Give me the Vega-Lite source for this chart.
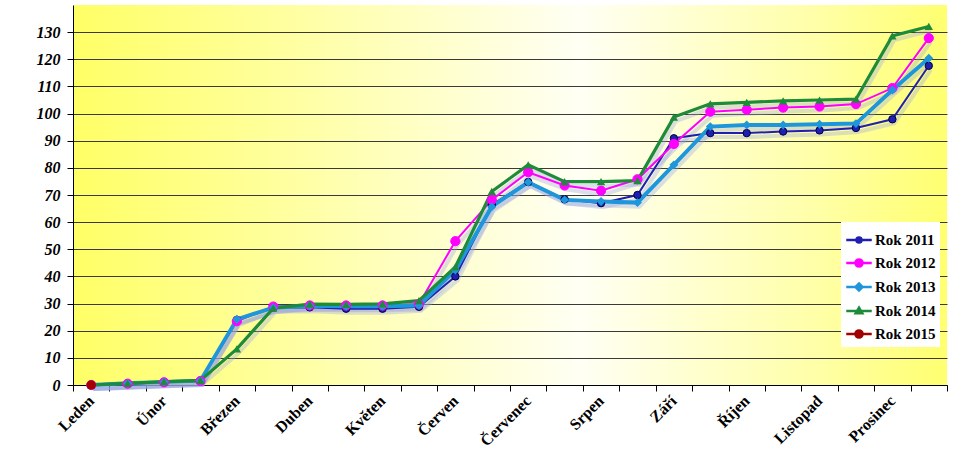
{
  "$schema": "https://vega.github.io/schema/vega-lite/v6.json",
  "width": 874,
  "height": 380,
  "autosize": {"type": "none"},
  "padding": {"left": 73, "top": 5, "right": 14, "bottom": 69},
  "background": "#ffffff",
  "config": {
    "view": {
      "stroke": null,
      "fill": {
        "gradient": "linear",
        "x1": 0, "y1": 0, "x2": 1, "y2": 0,
        "stops": [
          {"offset": 0, "color": "#FFFF66"},
          {"offset": 0.22, "color": "#FFFF9A"},
          {"offset": 0.58, "color": "#FFFFF4"},
          {"offset": 0.85, "color": "#FFFFA8"},
          {"offset": 1, "color": "#FFFF70"}
        ]
      }
    },
    "axis": {
      "labelFont": "Liberation Serif",
      "labelFontSize": 16,
      "labelFontWeight": "bold",
      "labelFontStyle": "italic",
      "labelColor": "#000000",
      "domainColor": "#000000",
      "tickColor": "#000000",
      "tickSize": 6,
      "title": null
    },
    "legend": {
      "labelFont": "Liberation Serif",
      "labelFontSize": 15,
      "labelFontWeight": "bold",
      "labelColor": "#000000"
    }
  },
  "datasets": {
    "series": [
      {"s": "Rok 2011", "i": 0, "v": 0}, {"s": "Rok 2011", "i": 1, "v": 0.5}, {"s": "Rok 2011", "i": 2, "v": 1}, {"s": "Rok 2011", "i": 3, "v": 1.5},
      {"s": "Rok 2011", "i": 4, "v": 24}, {"s": "Rok 2011", "i": 5, "v": 28.5}, {"s": "Rok 2011", "i": 6, "v": 28.6}, {"s": "Rok 2011", "i": 7, "v": 28.1},
      {"s": "Rok 2011", "i": 8, "v": 28.1}, {"s": "Rok 2011", "i": 9, "v": 28.8}, {"s": "Rok 2011", "i": 10, "v": 40}, {"s": "Rok 2011", "i": 11, "v": 66.3},
      {"s": "Rok 2011", "i": 12, "v": 74.8}, {"s": "Rok 2011", "i": 13, "v": 68.4}, {"s": "Rok 2011", "i": 14, "v": 67}, {"s": "Rok 2011", "i": 15, "v": 70},
      {"s": "Rok 2011", "i": 16, "v": 90.9}, {"s": "Rok 2011", "i": 17, "v": 92.8}, {"s": "Rok 2011", "i": 18, "v": 92.8}, {"s": "Rok 2011", "i": 19, "v": 93.4},
      {"s": "Rok 2011", "i": 20, "v": 93.8}, {"s": "Rok 2011", "i": 21, "v": 94.7}, {"s": "Rok 2011", "i": 22, "v": 97.9}, {"s": "Rok 2011", "i": 23, "v": 117.6},

      {"s": "Rok 2012", "i": 0, "v": 0}, {"s": "Rok 2012", "i": 1, "v": 0.5}, {"s": "Rok 2012", "i": 2, "v": 1}, {"s": "Rok 2012", "i": 3, "v": 1.5},
      {"s": "Rok 2012", "i": 4, "v": 23.5}, {"s": "Rok 2012", "i": 5, "v": 28.9}, {"s": "Rok 2012", "i": 6, "v": 29.3}, {"s": "Rok 2012", "i": 7, "v": 29.3},
      {"s": "Rok 2012", "i": 8, "v": 29.3}, {"s": "Rok 2012", "i": 9, "v": 29.8}, {"s": "Rok 2012", "i": 10, "v": 53}, {"s": "Rok 2012", "i": 11, "v": 68.2},
      {"s": "Rok 2012", "i": 12, "v": 78.4}, {"s": "Rok 2012", "i": 13, "v": 73.5}, {"s": "Rok 2012", "i": 14, "v": 71.6}, {"s": "Rok 2012", "i": 15, "v": 75.8},
      {"s": "Rok 2012", "i": 16, "v": 88.8}, {"s": "Rok 2012", "i": 17, "v": 100.7}, {"s": "Rok 2012", "i": 18, "v": 101.4}, {"s": "Rok 2012", "i": 19, "v": 102.2},
      {"s": "Rok 2012", "i": 20, "v": 102.6}, {"s": "Rok 2012", "i": 21, "v": 103.5}, {"s": "Rok 2012", "i": 22, "v": 109.4}, {"s": "Rok 2012", "i": 23, "v": 127.8},

      {"s": "Rok 2013", "i": 0, "v": 0}, {"s": "Rok 2013", "i": 1, "v": 0.6}, {"s": "Rok 2013", "i": 2, "v": 1.1}, {"s": "Rok 2013", "i": 3, "v": 1.6},
      {"s": "Rok 2013", "i": 4, "v": 24.2}, {"s": "Rok 2013", "i": 5, "v": 28.5}, {"s": "Rok 2013", "i": 6, "v": 29.2}, {"s": "Rok 2013", "i": 7, "v": 29},
      {"s": "Rok 2013", "i": 8, "v": 29}, {"s": "Rok 2013", "i": 9, "v": 29.3}, {"s": "Rok 2013", "i": 10, "v": 42.4}, {"s": "Rok 2013", "i": 11, "v": 65.7},
      {"s": "Rok 2013", "i": 12, "v": 74.7}, {"s": "Rok 2013", "i": 13, "v": 68.2}, {"s": "Rok 2013", "i": 14, "v": 67.6}, {"s": "Rok 2013", "i": 15, "v": 67.2},
      {"s": "Rok 2013", "i": 16, "v": 81.1}, {"s": "Rok 2013", "i": 17, "v": 95.2}, {"s": "Rok 2013", "i": 18, "v": 95.8}, {"s": "Rok 2013", "i": 19, "v": 95.8},
      {"s": "Rok 2013", "i": 20, "v": 96.1}, {"s": "Rok 2013", "i": 21, "v": 96.3}, {"s": "Rok 2013", "i": 22, "v": 108.7}, {"s": "Rok 2013", "i": 23, "v": 120.4},

      {"s": "Rok 2014", "i": 0, "v": 0}, {"s": "Rok 2014", "i": 1, "v": 0.6}, {"s": "Rok 2014", "i": 2, "v": 1.2}, {"s": "Rok 2014", "i": 3, "v": 1.7},
      {"s": "Rok 2014", "i": 4, "v": 13.3}, {"s": "Rok 2014", "i": 5, "v": 28.3}, {"s": "Rok 2014", "i": 6, "v": 29.8}, {"s": "Rok 2014", "i": 7, "v": 29.7},
      {"s": "Rok 2014", "i": 8, "v": 29.9}, {"s": "Rok 2014", "i": 9, "v": 31.1}, {"s": "Rok 2014", "i": 10, "v": 43.5}, {"s": "Rok 2014", "i": 11, "v": 71.3},
      {"s": "Rok 2014", "i": 12, "v": 81.1}, {"s": "Rok 2014", "i": 13, "v": 74.9}, {"s": "Rok 2014", "i": 14, "v": 74.9}, {"s": "Rok 2014", "i": 15, "v": 75.3},
      {"s": "Rok 2014", "i": 16, "v": 98.7}, {"s": "Rok 2014", "i": 17, "v": 103.6}, {"s": "Rok 2014", "i": 18, "v": 104.1}, {"s": "Rok 2014", "i": 19, "v": 104.7},
      {"s": "Rok 2014", "i": 20, "v": 105}, {"s": "Rok 2014", "i": 21, "v": 105.3}, {"s": "Rok 2014", "i": 22, "v": 128.6}, {"s": "Rok 2014", "i": 23, "v": 132.1},

      {"s": "Rok 2015", "i": 0, "v": 0}
    ],
    "backdrop": [{"part": "plot"}]
  },
  "data": {"name": "series"},
  "encoding": {
    "x": {
      "field": "i",
      "type": "quantitative",
      "scale": {"domain": [-0.5, 23.5], "nice": false, "zero": false},
      "axis": {
        "values": [-0.5, 0.5, 1.5, 2.5, 3.5, 4.5, 5.5, 6.5, 7.5, 8.5, 9.5, 10.5, 11.5, 12.5, 13.5, 14.5, 15.5, 16.5, 17.5, 18.5, 19.5, 20.5, 21.5, 22.5, 23.5],
        "grid": false,
        "labelAngle": -45,
        "labelAlign": "right",
        "labelBaseline": "middle",
        "labelOffset": 18,
        "labelPadding": 7,
        "labelFontStyle": "normal",
        "labelOverlap": false,
        "labelBound": false,
        "labelFlush": false,
        "labelExpr": "(datum.value + 0.5) % 2 == 0 && datum.value < 23 ? ['Leden','Únor','Březen','Duben','Květen','Červen','Červenec','Srpen','Září','Říjen','Listopad','Prosinec'][(datum.value + 0.5) / 2] : ''"
      }
    },
    "y": {
      "field": "v",
      "type": "quantitative",
      "scale": {"domain": [0, 140], "nice": false},
      "axis": {
        "values": [0, 10, 20, 30, 40, 50, 60, 70, 80, 90, 100, 110, 120, 130],
        "grid": true,
        "gridColor": "#3a3a3a",
        "gridWidth": 1,
        "labelPadding": 7
      }
    }
  },
  "layer": [
    {
      "data": {"name": "backdrop"},
      "mark": {
        "type": "rect",
        "fill": {
          "gradient": "linear",
          "x1": 0, "y1": 0, "x2": 0, "y2": 1,
          "stops": [
            {"offset": 0, "color": "rgba(255,255,102,0.85)"},
            {"offset": 0.3, "color": "rgba(255,255,102,0.3)"},
            {"offset": 0.6, "color": "rgba(255,255,102,0)"},
            {"offset": 0.85, "color": "rgba(255,255,102,0.2)"},
            {"offset": 1, "color": "rgba(255,255,102,0.55)"}
          ]
        }
      },
      "encoding": {
        "x": {"datum": -0.5, "type": "quantitative"},
        "x2": {"datum": 23.5},
        "y": {"datum": 0, "type": "quantitative"},
        "y2": {"datum": 140}
      }
    },
    {
      "mark": {"type": "line", "opacity": 0.35, "strokeWidth": 4, "xOffset": 2, "yOffset": 4},
      "encoding": {"color": {"value": "#98a2e0"}, "detail": {"field": "s", "type": "nominal"}}
    },
    {
      "mark": {"type": "line"},
      "encoding": {
        "color": {
          "field": "s",
          "type": "nominal",
          "scale": {
            "domain": ["Rok 2011", "Rok 2012", "Rok 2013", "Rok 2014", "Rok 2015"],
            "range": ["#2020B0", "#FF00FF", "#1E96DC", "#1E8B3A", "#A00000"]
          },
          "legend": {
            "title": null,
            "orient": "none",
            "legendX": 768,
            "legendY": 217,
            "fillColor": "#ffffff",
            "padding": 4,
            "rowPadding": 1,
            "labelOffset": 2,
            "symbolSize": 650,
            "symbolStrokeWidth": 2.5,
            "symbolOpacity": 1
          }
        },
        "strokeWidth": {
          "condition": [
            {"test": "datum.s == 'Rok 2013'", "value": 4},
            {"test": "datum.s == 'Rok 2014'", "value": 3.2}
          ],
          "value": 2
        }
      }
    },
    {
      "transform": [{"filter": "datum.i < 0"}],
      "mark": {"type": "point", "filled": true, "strokeWidth": 2.5, "opacity": 1},
      "encoding": {
        "color": {"field": "s", "type": "nominal"},
        "stroke": {
          "field": "s",
          "type": "nominal",
          "scale": {
            "domain": ["Rok 2011", "Rok 2012", "Rok 2013", "Rok 2014", "Rok 2015"],
            "range": ["#2020B0", "#FF00FF", "#1E96DC", "#1E8B3A", "#A00000"]
          }
        },
        "shape": {
          "field": "s",
          "type": "nominal",
          "scale": {
            "domain": ["Rok 2011", "Rok 2012", "Rok 2013", "Rok 2014", "Rok 2015"],
            "range": [
              "M-1,0L1,0M0.2,0A0.2,0.2,0,1,1,-0.2,0A0.2,0.2,0,1,1,0.2,0Z",
              "M-1,0L1,0M0.28,0A0.28,0.28,0,1,1,-0.28,0A0.28,0.28,0,1,1,0.28,0Z",
              "M-1,0L1,0M0,-0.28L0.28,0L0,0.28L-0.28,0Z",
              "M-1,0L1,0M0,-0.26L0.26,0.18L-0.26,0.18Z",
              "M-1,0L1,0M0.28,0A0.28,0.28,0,1,1,-0.28,0A0.28,0.28,0,1,1,0.28,0Z"
            ]
          }
        }
      }
    },
    {
      "transform": [{"filter": "datum.s == 'Rok 2011' || datum.s == 'Rok 2012'"}],
      "mark": {"type": "point", "shape": "circle", "filled": true, "opacity": 1},
      "encoding": {
        "color": {"field": "s", "type": "nominal"},
        "size": {"condition": {"test": "datum.s == 'Rok 2011'", "value": 55}, "value": 85},
        "stroke": {"condition": {"test": "datum.s == 'Rok 2011'", "value": "#000040"}, "value": "#FF00FF"},
        "strokeWidth": {"value": 1}
      }
    },
    {
      "transform": [{"filter": "datum.s == 'Rok 2013'"}],
      "mark": {"type": "point", "shape": "diamond", "filled": true, "opacity": 1, "size": 80},
      "encoding": {"color": {"field": "s", "type": "nominal"}}
    },
    {
      "transform": [{"filter": "datum.s == 'Rok 2014'"}],
      "mark": {"type": "point", "shape": "triangle-up", "filled": true, "opacity": 1, "size": 70},
      "encoding": {"color": {"field": "s", "type": "nominal"}}
    },
    {
      "transform": [{"filter": "datum.s == 'Rok 2015'"}],
      "mark": {"type": "point", "shape": "circle", "filled": true, "opacity": 1, "size": 90},
      "encoding": {"color": {"field": "s", "type": "nominal"}}
    }
  ]
}
